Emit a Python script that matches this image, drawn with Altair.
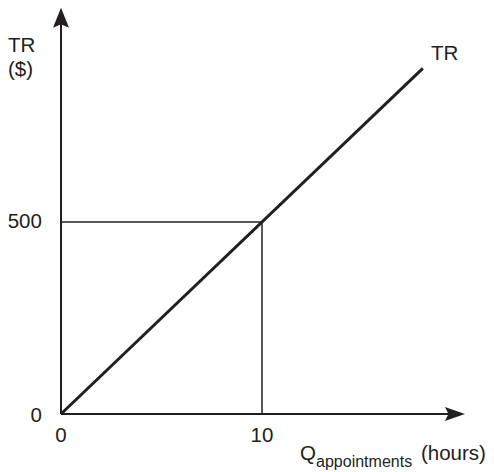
import altair as alt
import pandas as pd

# ---- data ----
tr_q = [0, 18]            # TR line: quantity (hours)
tr_val = [0, 900]         # TR line: revenue ($)
mark_q = 10               # marked quantity
mark_tr = 500             # marked revenue
x_axis_end = 19.5
y_axis_end = 1020

# annotation texts and their positions (data units)
lab_text = ["TR", "TR", "($)", "Q", "(hours)"]
lab_x = [18.41, -2.64, -2.64, 11.89, 17.91]
lab_y = [922, 943, 880, -120, -120]

sub_text = ["appointments"]
sub_x = [12.69]
sub_y = [-138]

ytick_text = ["500", "0"]
ytick_x = [-0.95, -0.95]
ytick_y = [500, -5]

xtick_text = ["0", "10"]
xtick_x = [0, 10]
xtick_y = [-57, -57]

INK = "#231f20"
FONT = "Liberation Sans"

xs = alt.Scale(domain=[0, 10], range=[53, 254], zero=False, nice=False)
ys = alt.Scale(domain=[0, 500], range=[406, 214], zero=False, nice=False)


def X(f="x"):
    return alt.X(f"{f}:Q", scale=xs, axis=None)


def Y(f="y"):
    return alt.Y(f"{f}:Q", scale=ys, axis=None)


tr_df = pd.DataFrame({"x": tr_q, "y": tr_val})
tr_line = alt.Chart(tr_df).mark_line(color=INK, strokeWidth=3, strokeCap="butt").encode(
    x=X(), y=Y()
)

axes_df = pd.DataFrame({
    "x": [0, 0], "y": [0, 0],
    "x2": [x_axis_end, 0], "y2": [0, y_axis_end],
})
axes = alt.Chart(axes_df).mark_rule(color=INK, strokeWidth=2).encode(
    x=X(), y=Y(), x2="x2:Q", y2="y2:Q"
)

guide_df = pd.DataFrame({
    "x": [0, mark_q], "y": [mark_tr, 0],
    "x2": [mark_q, mark_q], "y2": [mark_tr, mark_tr],
})
guides = alt.Chart(guide_df).mark_rule(color=INK, strokeWidth=1.5).encode(
    x=X(), y=Y(), x2="x2:Q", y2="y2:Q"
)

up_arrow = alt.Chart(pd.DataFrame({"x": [0], "y": [1032]})).mark_point(
    shape="M0,-1L0.8,1L0,0.65L-0.8,1Z", size=400, filled=True, color=INK, opacity=1
).encode(x=X(), y=Y())

right_arrow = alt.Chart(pd.DataFrame({"x": [19.6], "y": [0]})).mark_point(
    shape="M1,0L-1,0.7L-0.65,0L-1,-0.7Z", size=400, filled=True, color=INK, opacity=1
).encode(x=X(), y=Y())

labels = alt.Chart(pd.DataFrame({"x": lab_x, "y": lab_y, "t": lab_text})).mark_text(
    align="left", baseline="alphabetic", font=FONT, fontSize=20.5, color=INK
).encode(x=X(), y=Y(), text="t:N")

sub = alt.Chart(pd.DataFrame({"x": sub_x, "y": sub_y, "t": sub_text})).mark_text(
    align="left", baseline="alphabetic", font=FONT, fontSize=16, color=INK
).encode(x=X(), y=Y(), text="t:N")

yticks = alt.Chart(pd.DataFrame({"x": ytick_x, "y": ytick_y, "t": ytick_text})).mark_text(
    align="right", baseline="middle", font=FONT, fontSize=20.5, color=INK
).encode(x=X(), y=Y(), text="t:N")

xticks = alt.Chart(pd.DataFrame({"x": xtick_x, "y": xtick_y, "t": xtick_text})).mark_text(
    align="center", baseline="middle", font=FONT, fontSize=20.5, color=INK
).encode(x=X(), y=Y(), text="t:N")

chart = alt.layer(
    guides, axes, tr_line, up_arrow, right_arrow, labels, sub, yticks, xticks
).properties(
    width=478, height=464,
    autosize=alt.AutoSizeParams(type="none"),
    padding=0,
    background="white",
).configure_view(strokeWidth=0)

chart.save("out.html", embed_options={"renderer": "svg", "actions": False})
